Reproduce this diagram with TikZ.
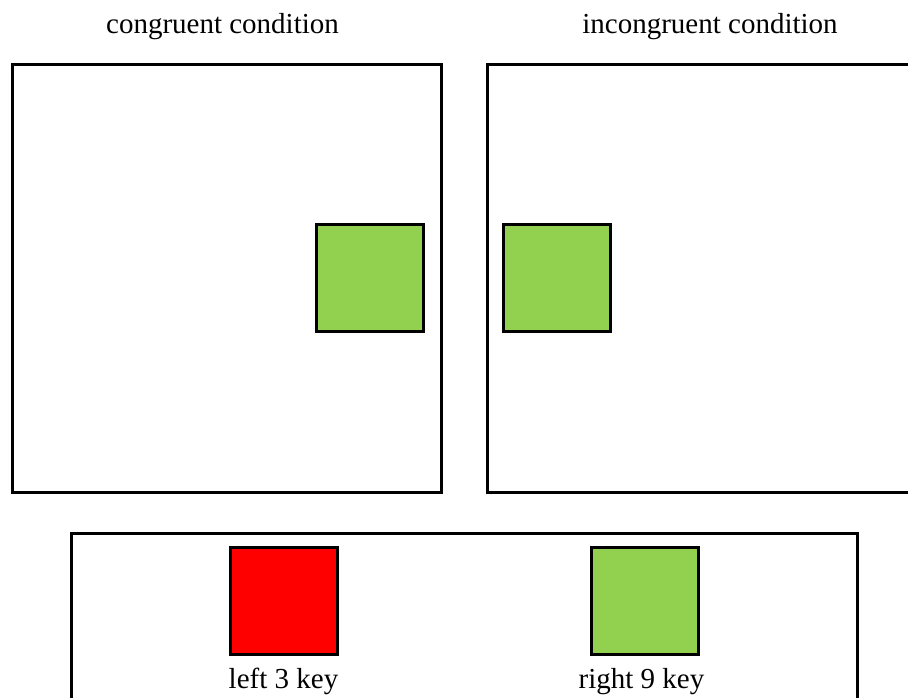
\documentclass[tikz,border=0pt]{standalone}
\usepackage{fontspec}
\setmainfont{Liberation Serif}
\usetikzlibrary{positioning}
\definecolor{keygreen}{RGB}{146,208,80}
\begin{document}
\begin{tikzpicture}[x=1pt,y=-1pt,line width=3pt,line join=miter,font=\fontsize{29}{34}\selectfont,
	frame/.style={draw,inner sep=0pt,outer sep=0pt,anchor=north west},
	patch/.style={draw,inner sep=0pt,outer sep=0pt,minimum size=107pt,anchor=north west},
	caption/.style={anchor=base,inner sep=0pt}]
	\useasboundingbox (0,0) rectangle (908,697);
	\clip (0,0) rectangle (908,697);
	\node[frame,minimum width=429pt,minimum height=428pt] (cong) at (12,64) {};
	\node[frame,minimum width=460pt,minimum height=428pt] (incong) at (487.5,64) {};
	\node[frame,minimum width=786pt,minimum height=200pt] (keys) at (71,533) {};
	\node[patch,fill=keygreen] (congsq) at (316.5,224.5) {};
	\node[patch,fill=keygreen] (incongsq) at (503.5,224.5) {};
	\node[patch,fill=red] (leftkey) at (230.5,547) {};
	\node[patch,fill=keygreen] (rightkey) at (591.5,547) {};
	\node[caption] (congtxt) at (222.5,33) {congruent condition};
	\node[caption] (incongtxt) at (710,33) {incongruent condition};
	\node[caption] (lefttxt) at (283.5,688) {left 3 key};
	\node[caption] (righttxt) at (641.5,688) {right 9 key};
\end{tikzpicture}
\end{document}
